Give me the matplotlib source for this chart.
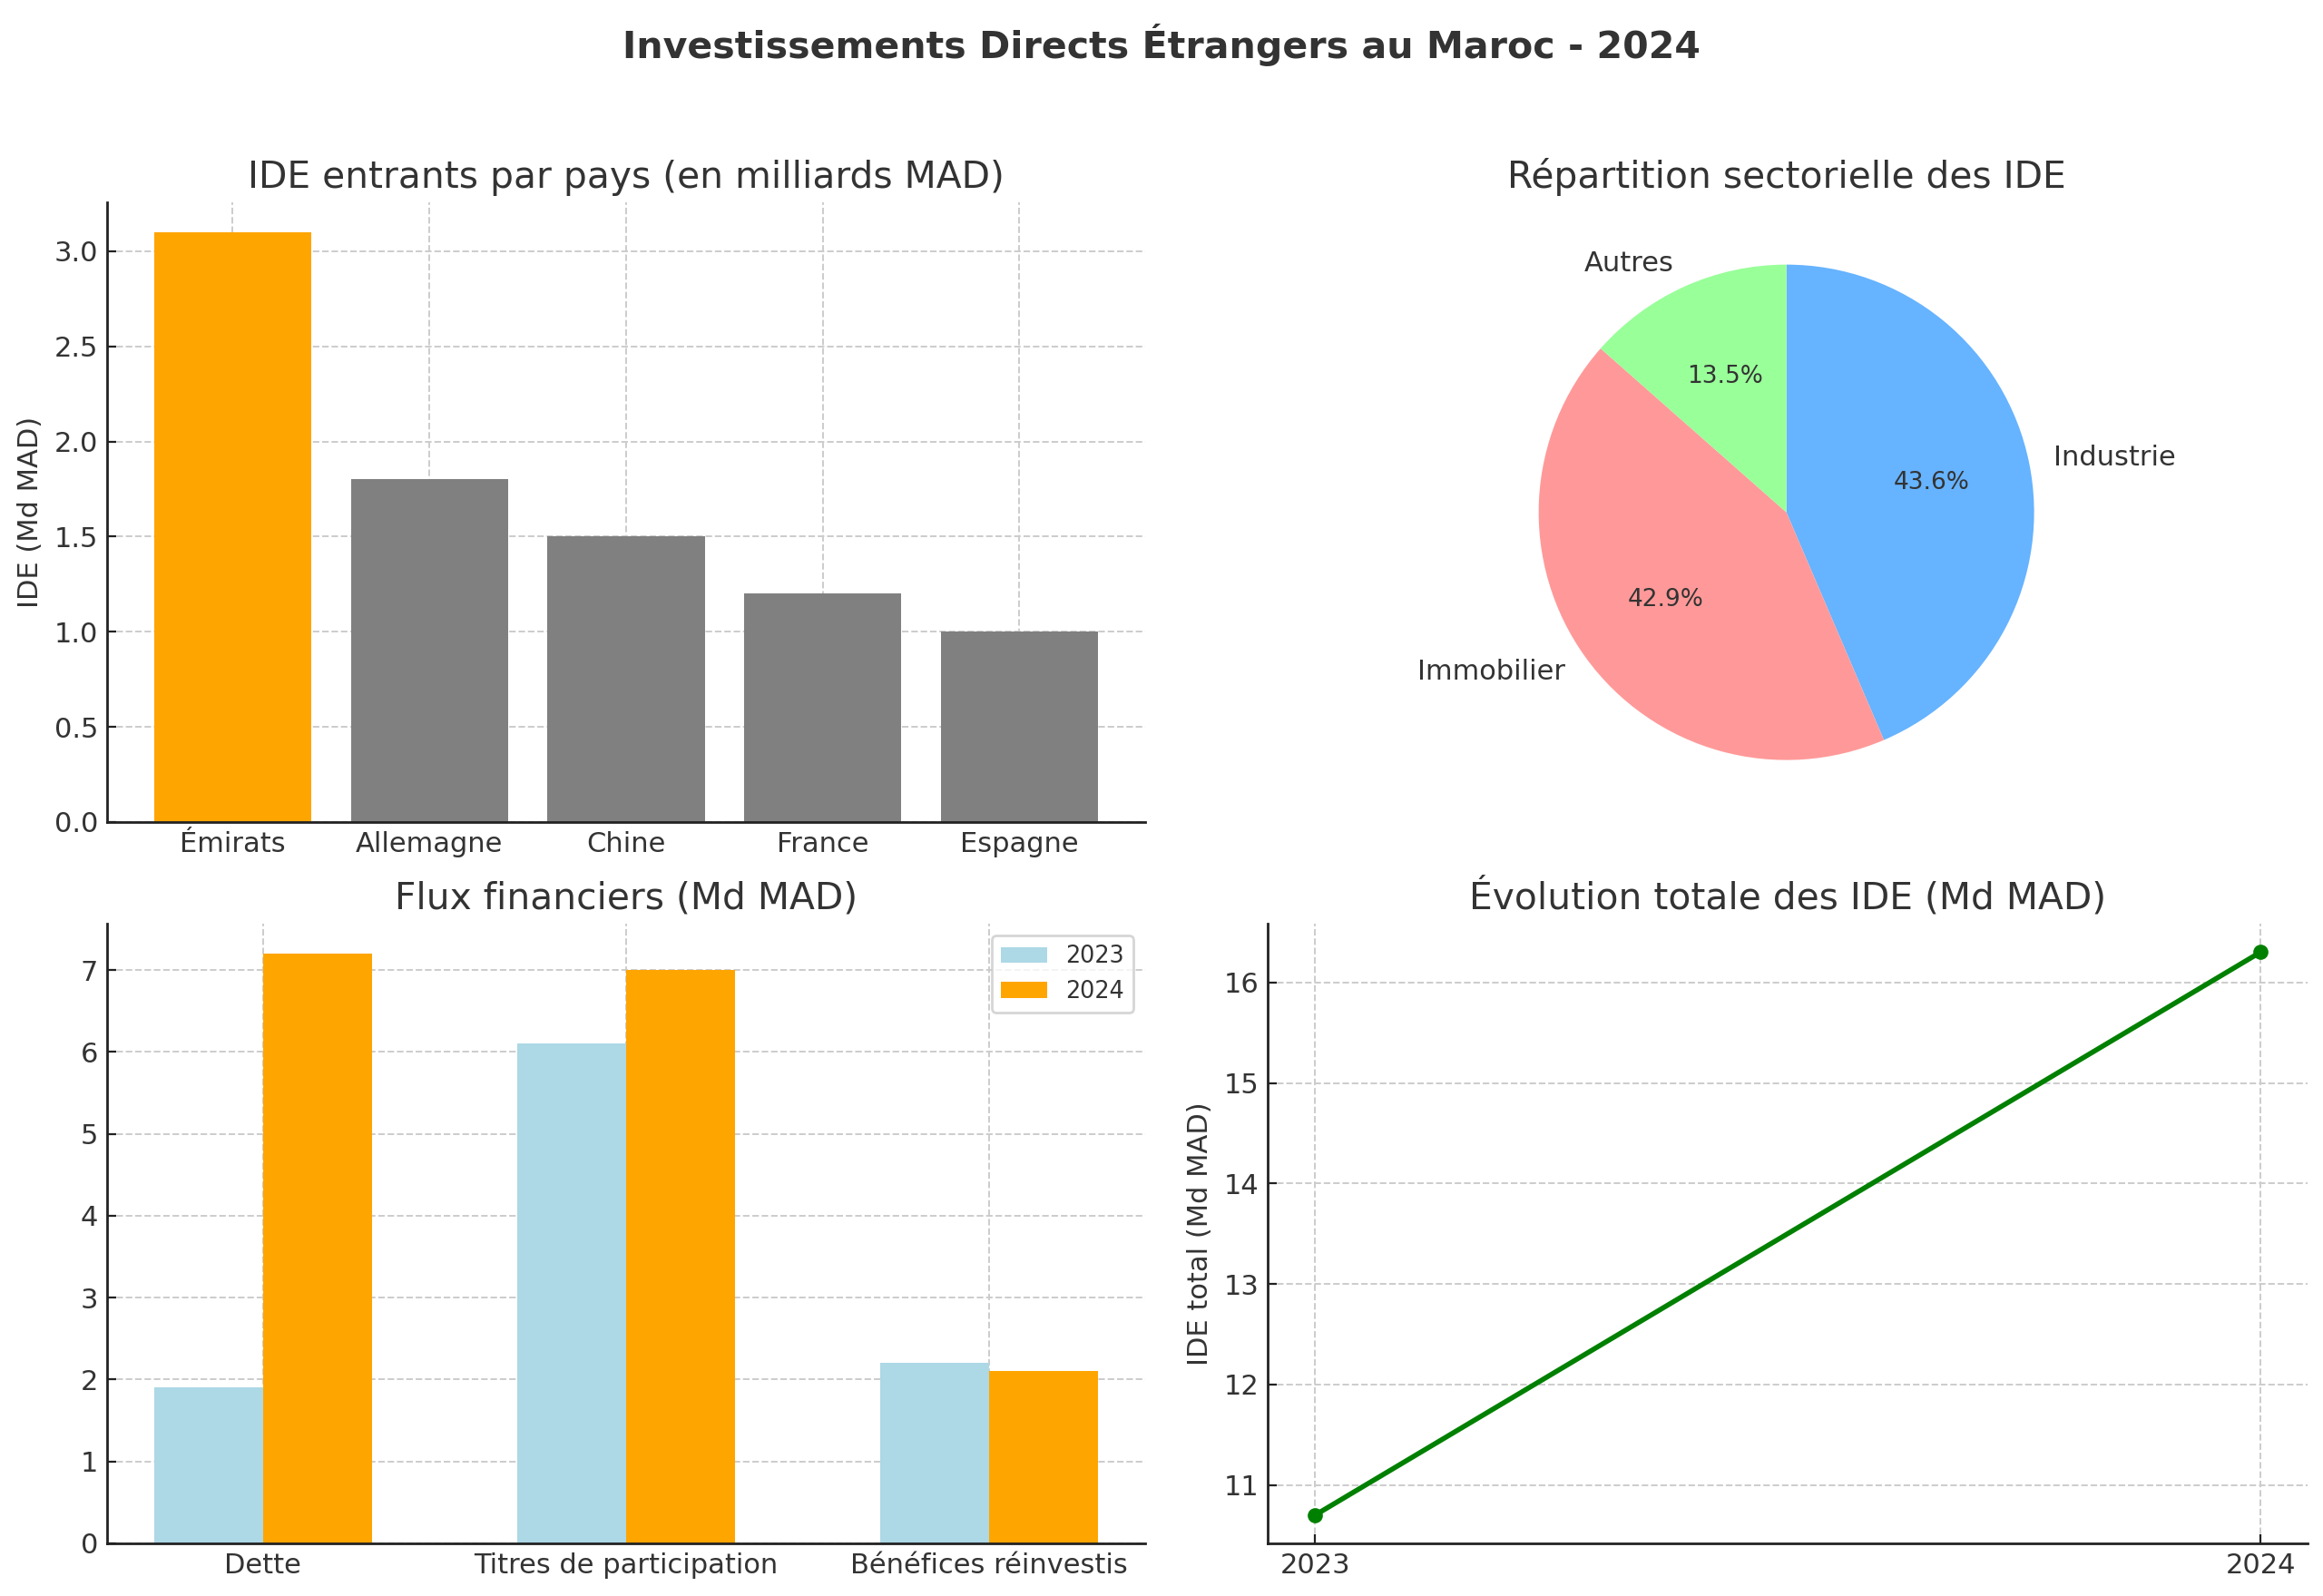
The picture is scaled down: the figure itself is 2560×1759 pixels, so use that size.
import matplotlib.pyplot as plt
import numpy as np

# data
pays = ["Émirats", "Allemagne", "Chine", "France", "Espagne"]
ide_pays = [3.1, 1.8, 1.5, 1.2, 1.0]
couleurs_pays = ["orange", "gray", "gray", "gray", "gray"]

secteurs = ["Industrie", "Immobilier", "Autres"]
ide_secteurs = [7.1, 7.0, 2.2]
couleurs_secteurs = ["#66b3ff", "#ff9999", "#99ff99"]

flux = ["Dette", "Titres de participation", "Bénéfices réinvestis"]
flux_2023 = [1.9, 6.1, 2.2]
flux_2024 = [7.2, 7.0, 2.1]

annees = [2023, 2024]
ide_total = [10.7, 16.3]

TXT = "#333333"
plt.rcParams.update({
    "font.family": "DejaVu Sans",
    "text.color": TXT,
    "axes.labelcolor": TXT,
    "xtick.color": "#222222",
    "ytick.color": "#222222",
    "xtick.labelcolor": TXT,
    "ytick.labelcolor": TXT,
    "xtick.direction": "in",
    "ytick.direction": "in",
    "xtick.major.size": 3.5,
    "ytick.major.size": 3.5,
    "axes.titlecolor": TXT,
    "axes.spines.top": False,
    "axes.spines.right": False,
    "axes.edgecolor": "#222222",
    "axes.linewidth": 1.0,
    "grid.color": "#cccccc",
    "grid.linestyle": "--",
    "grid.linewidth": 0.7,
    "axes.titlesize": 14.7,
    "axes.labelsize": 11,
    "xtick.labelsize": 11,
    "ytick.labelsize": 11,
})

fig = plt.figure(figsize=(12.8, 8.795), dpi=200)
fig.suptitle("Investissements Directs Étrangers au Maroc - 2024",
             fontsize=14.8, fontweight="bold", y=0.985)

# ─── bar chart par pays ───
ax1 = fig.add_axes([0.046, 0.485, 0.447, 0.388])
ax1.bar(pays, ide_pays, color=couleurs_pays, width=0.8)
ax1.set_title("IDE entrants par pays (en milliards MAD)")
ax1.set_ylabel("IDE (Md MAD)")
ax1.grid(True)
ax1.set_axisbelow(True)

# ─── pie sectoriel ───
ax2 = fig.add_axes([0.545, 0.485, 0.448, 0.388])
ax2.pie(ide_secteurs, labels=secteurs, colors=couleurs_secteurs,
        autopct="%1.1f%%", startangle=90, counterclock=False,
        textprops={"fontsize": 11, "color": TXT})
for t in ax2.texts:
    if "%" in t.get_text():
        t.set_fontsize(9.5)
ax2.set_title("Répartition sectorielle des IDE")

# ─── flux financiers ───
ax3 = fig.add_axes([0.046, 0.033, 0.447, 0.388])
x = np.arange(len(flux))
w = 0.3
ax3.bar(x - w / 2, flux_2023, w, color="lightblue", label="2023")
ax3.bar(x + w / 2, flux_2024, w, color="orange", label="2024")
ax3.set_xticks(x)
ax3.set_xticklabels(flux)
ax3.set_title("Flux financiers (Md MAD)")
ax3.legend(loc="upper right", fontsize=9.2)
ax3.grid(True)
ax3.set_axisbelow(True)

# ─── évolution totale ───
ax4 = fig.add_axes([0.5457, 0.033, 0.4477, 0.388])
ax4.plot(annees, ide_total, marker="o", color="green", linewidth=2, markersize=5)
ax4.set_xticks(annees)
ax4.set_title("Évolution totale des IDE (Md MAD)")
ax4.set_ylabel("IDE total (Md MAD)")
ax4.grid(True)

plt.savefig("out.png", dpi=200)
